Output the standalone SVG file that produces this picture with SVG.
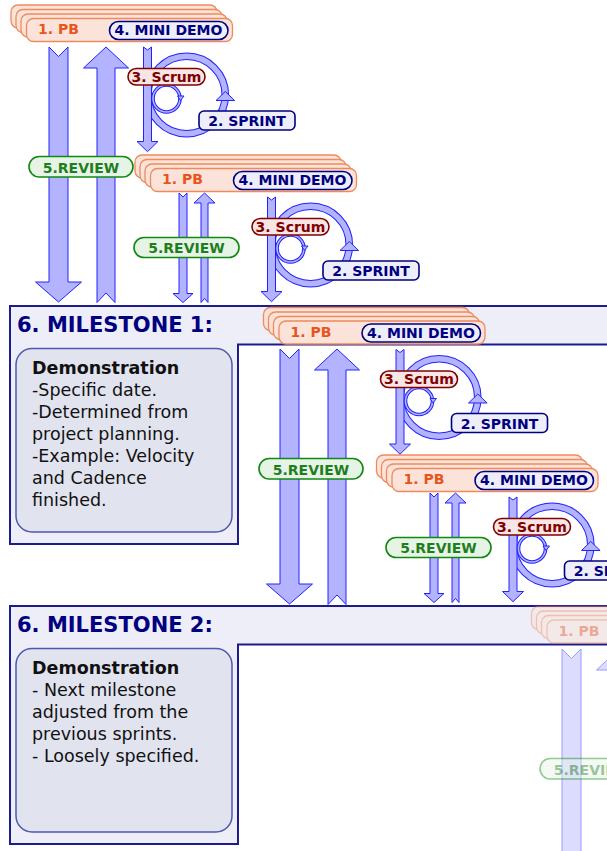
<svg xmlns="http://www.w3.org/2000/svg" xmlns:xlink="http://www.w3.org/1999/xlink" width="607" height="851" viewBox="0 0 607 851">
<style>
  text { font-family: "DejaVu Sans", "Liberation Sans", sans-serif; }
  .arrow { fill: #b3b3ff; stroke: #2222ff; stroke-width: 1; }
  .ring-edge { fill: none; stroke: #2222ff; }
  .ring-body { fill: none; stroke: #b3b3ff; }
  .pb { fill: #fbe3d9; stroke: #ee8a5e; stroke-width: 1.3; }
  .pb-t { font-size: 14px; font-weight: bold; fill: #e8541c; }
  .navy-pill { fill: #eeeefa; stroke: #000080; stroke-width: 1.6; }
  .navy-t { font-size: 14px; font-weight: bold; fill: #000080; text-anchor: middle; }
  .scrum-pill { fill: #f8e6e6; stroke: #800000; stroke-width: 1.6; }
  .scrum-t { font-size: 14px; font-weight: bold; fill: #800000; text-anchor: middle; }
  .review-pill { fill: #e6f4e6; stroke: #118811; stroke-width: 1.6; }
  .review-t { font-size: 14px; font-weight: bold; fill: #1e7e1e; text-anchor: middle; }
  .ms { fill: #eeeef8; stroke: #1c1c8c; stroke-width: 2; }
  .ms-t { font-size: 21px; font-weight: bold; fill: #000080; }
  .demo { fill: #e1e3ef; stroke: #4f57ad; stroke-width: 1.5; }
  .demo-t { font-size: 17.5px; fill: #111111; }
  .faded { opacity: 0.45; }
</style>
<defs>
  <!-- stacked product backlog cards -->
  <g id="pb-stack">
    <rect class="pb" x="11" y="5" width="206" height="23" rx="7"/>
    <rect class="pb" x="16" y="9.5" width="206" height="23" rx="7"/>
    <rect class="pb" x="21" y="14" width="206" height="23" rx="7"/>
    <rect class="pb" x="26.5" y="18.5" width="206" height="23" rx="7"/>
  </g>
  <!-- sprint loop: big ring, daily scrum ring, down shaft -->
  <g id="loop-shape">
    <circle class="ring-edge" cx="186.6" cy="95" r="38.7" stroke-width="7.6"/>
    <circle class="ring-body" cx="186.6" cy="95" r="38.7" stroke-width="5.6"/>
    <polygon class="arrow" points="216,100.5 225.3,91.5 234.6,100.5"/>
    <path class="arrow" d="M143.5,47 L147.5,50 L151.5,47 V141.5 H158 L147.5,151.7 L137,141.5 H143.5 Z"/>
    <circle class="ring-edge" cx="166.5" cy="98.5" r="13.5" stroke-width="3.6"/>
    <circle class="ring-body" cx="166.5" cy="98.5" r="13.5" stroke-width="1.6"/>
    <polygon class="arrow" stroke-width="0.8" points="177.5,96 184,96 180.5,100.5"/>
  </g>
  <path id="big-down" class="arrow" d="M49,47 L58.5,56.5 L68,47 V282 H81.5 L58.5,302 L35.5,282 H49 Z"/>
  <path id="big-up" class="arrow" d="M97,302.5 L106,293 L115,302.5 V68 H128.5 L106,47 L83.5,68 H97 Z"/>
  <path id="thin-down" class="arrow" d="M179,193 L183,197 L187,193 V293.5 H193 L183,302.5 L173,293.5 H179 Z"/>
  <path id="thin-up" class="arrow" d="M201,302.5 L204.5,298.5 L208,302.5 V203 H215 L204.5,193 L194,203 H201 Z"/>
</defs>

<!-- milestone 1 -->
<g id="milestone-1">
  <path class="ms" d="M10,306 H612 V344.5 H238 V544 H10 Z"/>
  <text class="ms-t" x="17" y="332">6. MILESTONE 1:</text>
  <rect class="demo" x="16" y="348.5" width="216" height="183.5" rx="16"/>
  <text class="demo-t" x="32" y="374.3"><tspan font-weight="bold">Demonstration</tspan><tspan x="32" dy="22">-Specific date.</tspan><tspan x="32" dy="22">-Determined from</tspan><tspan x="32" dy="22">project planning.</tspan><tspan x="32" dy="22">-Example: Velocity</tspan><tspan x="32" dy="22">and Cadence</tspan><tspan x="32" dy="22">finished.</tspan></text>
</g>

<!-- milestone 2 -->
<g id="milestone-2">
  <path class="ms" d="M10,606 H612 V644.5 H238 V844 H10 Z"/>
  <text class="ms-t" x="17" y="632">6. MILESTONE 2:</text>
  <rect class="demo" x="16" y="648.5" width="216" height="183.5" rx="16"/>
  <text class="demo-t" x="32" y="674.3"><tspan font-weight="bold">Demonstration</tspan><tspan x="32" dy="22">- Next milestone</tspan><tspan x="32" dy="22">adjusted from the</tspan><tspan x="32" dy="22">previous sprints.</tspan><tspan x="32" dy="22">- Loosely specified.</tspan></text>
</g>

<!-- connectors: backlog / review flows -->
<g id="connectors">
  <use xlink:href="#big-down"/>
  <use xlink:href="#big-up"/>
  <use xlink:href="#thin-down"/>
  <use xlink:href="#thin-up"/>
  <g transform="translate(231,302)"><use xlink:href="#big-down"/><use xlink:href="#big-up"/></g>
  <g transform="translate(251,300)"><use xlink:href="#thin-down"/><use xlink:href="#thin-up"/></g>
  <g class="faded" transform="translate(513,602)"><use xlink:href="#big-down"/><use xlink:href="#big-up"/></g>
</g>

<!-- review labels -->
<g id="review-1"><rect class="review-pill" x="29" y="156.5" width="104" height="20.5" rx="10.25"/><text class="review-t" x="81" y="172.5">5.REVIEW</text></g>
<g id="review-2"><rect class="review-pill" x="134" y="237.5" width="105" height="20" rx="10"/><text class="review-t" x="186.5" y="252.8">5.REVIEW</text></g>
<g id="review-3" transform="translate(230,302)"><rect class="review-pill" x="29" y="156.5" width="104" height="20.5" rx="10.25"/><text class="review-t" x="81" y="172.5">5.REVIEW</text></g>
<g id="review-4" transform="translate(252,300)"><rect class="review-pill" x="134" y="237.5" width="105" height="20" rx="10"/><text class="review-t" x="186.5" y="252.8">5.REVIEW</text></g>
<g id="review-5" class="faded" transform="translate(511,602)"><rect class="review-pill" x="29" y="156.5" width="104" height="20.5" rx="10.25"/><text class="review-t" x="81" y="172.5">5.REVIEW</text></g>

<!-- sprint cycles -->
<g id="cycle-1">
  <use xlink:href="#loop-shape"/>
  <g id="scrum-1"><rect class="scrum-pill" x="128" y="68.5" width="77" height="16.5" rx="8.25"/><text class="scrum-t" x="166.5" y="81.5">3. Scrum</text></g>
  <g id="sprint-1"><rect class="navy-pill" x="199" y="111" width="96" height="19" rx="5"/><text class="navy-t" x="247" y="126">2. SPRINT</text></g>
  <g id="pb-1"><use xlink:href="#pb-stack"/><text class="pb-t" x="38" y="34.4">1. PB</text>
    <g id="minidemo-1"><rect class="navy-pill" x="109.5" y="21.5" width="118.5" height="18" rx="9"/><text class="navy-t" x="168.5" y="35.2">4. MINI DEMO</text></g></g>
</g>

<g id="cycle-2" transform="translate(124,150)">
  <use xlink:href="#loop-shape"/>
  <g id="scrum-2"><rect class="scrum-pill" x="128" y="68.5" width="77" height="16.5" rx="8.25"/><text class="scrum-t" x="166.5" y="81.5">3. Scrum</text></g>
  <g id="sprint-2"><rect class="navy-pill" x="199" y="111" width="96" height="19" rx="5"/><text class="navy-t" x="247" y="126">2. SPRINT</text></g>
  <g id="pb-2"><use xlink:href="#pb-stack"/><text class="pb-t" x="38" y="34.4">1. PB</text>
    <g id="minidemo-2"><rect class="navy-pill" x="109.5" y="21.5" width="118.5" height="18" rx="9"/><text class="navy-t" x="168.5" y="35.2">4. MINI DEMO</text></g></g>
</g>

<g id="cycle-3" transform="translate(252.5,302.5)">
  <use xlink:href="#loop-shape"/>
  <g id="scrum-3"><rect class="scrum-pill" x="128" y="68.5" width="77" height="16.5" rx="8.25"/><text class="scrum-t" x="166.5" y="81.5">3. Scrum</text></g>
  <g id="sprint-3"><rect class="navy-pill" x="199" y="111" width="96" height="19" rx="5"/><text class="navy-t" x="247" y="126">2. SPRINT</text></g>
  <g id="pb-3"><use xlink:href="#pb-stack"/><text class="pb-t" x="38" y="34.4">1. PB</text>
    <g id="minidemo-3"><rect class="navy-pill" x="109.5" y="21.5" width="118.5" height="18" rx="9"/><text class="navy-t" x="168.5" y="35.2">4. MINI DEMO</text></g></g>
</g>

<g id="cycle-4" transform="translate(365.5,450)">
  <use xlink:href="#loop-shape"/>
  <g id="scrum-4"><rect class="scrum-pill" x="128" y="68.5" width="77" height="16.5" rx="8.25"/><text class="scrum-t" x="166.5" y="81.5">3. Scrum</text></g>
  <g id="sprint-4"><rect class="navy-pill" x="199" y="111" width="96" height="19" rx="5"/><text class="navy-t" x="247" y="126">2. SPRINT</text></g>
  <g id="pb-4"><use xlink:href="#pb-stack"/><text class="pb-t" x="38" y="34.4">1. PB</text>
    <g id="minidemo-4"><rect class="navy-pill" x="109.5" y="21.5" width="118.5" height="18" rx="9"/><text class="navy-t" x="168.5" y="35.2">4. MINI DEMO</text></g></g>
</g>

<g id="cycle-5" class="faded" transform="translate(520.5,601.5)">
  <g id="pb-5"><use xlink:href="#pb-stack"/><text class="pb-t" x="38" y="34.4">1. PB</text></g>
</g>
</svg>
